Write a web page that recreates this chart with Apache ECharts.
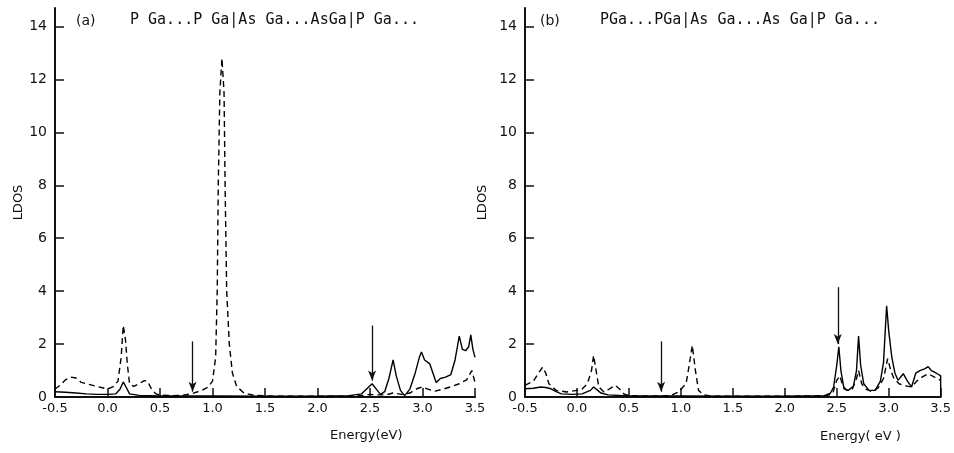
<!DOCTYPE html>
<html>
<head>
<meta charset="utf-8">
<title>LDOS</title>
<script src="https://cdn.jsdelivr.net/npm/echarts@6/dist/echarts.min.js"></script>
<style>
  html, body { margin: 0; padding: 0; background: #fff; }
  #chart { width: 954px; height: 453px; }
</style>
</head>
<body>
<div id="chart"></div>
<script>
// tick labels
var xTicks = [-0.5, 0.0, 0.5, 1.0, 1.5, 2.0, 2.5, 3.0, 3.5];
var yTicks = [0, 2, 4, 6, 8, 10, 12, 14];

// panel (a): P Ga ... | As Ga ... | P Ga ...
var dashedA = [
  [-0.5,0.3],[-0.45,0.45],[-0.4,0.65],[-0.35,0.75],[-0.3,0.72],[-0.25,0.55],[-0.2,0.5],[-0.15,0.45],
  [-0.1,0.4],[-0.05,0.35],[0.0,0.3],[0.05,0.38],[0.1,0.6],[0.13,1.5],[0.15,2.7],[0.17,2.2],[0.19,1.2],
  [0.21,0.5],[0.25,0.4],[0.3,0.5],[0.35,0.62],[0.38,0.6],[0.42,0.3],[0.46,0.12],[0.5,0.08],[0.6,0.05],
  [0.7,0.06],[0.8,0.12],[0.9,0.25],[0.96,0.38],[1.0,0.6],[1.03,1.5],[1.045,4],[1.055,8],[1.07,11.5],
  [1.09,12.8],[1.11,11.5],[1.12,8],[1.135,4],[1.16,2],[1.19,0.9],[1.23,0.4],[1.3,0.15],[1.4,0.06],[1.6,0.03],
  [2.0,0.03],[2.3,0.03],[2.45,0.06],[2.5,0.1],[2.55,0.08],[2.65,0.08],[2.72,0.15],[2.8,0.1],[2.88,0.15],
  [2.95,0.32],[3.0,0.38],[3.05,0.3],[3.12,0.22],[3.2,0.3],[3.28,0.4],[3.35,0.5],[3.42,0.65],[3.47,1.0],[3.5,0.55]
];
var solidA = [
  [-0.5,0.2],[-0.4,0.18],[-0.3,0.15],[-0.2,0.12],[-0.1,0.1],[0.0,0.1],[0.08,0.12],[0.12,0.3],[0.15,0.57],
  [0.18,0.35],[0.21,0.12],[0.3,0.06],[0.5,0.04],[1.0,0.04],[1.5,0.03],[2.0,0.03],[2.3,0.05],[2.42,0.12],
  [2.48,0.35],[2.52,0.5],[2.56,0.3],[2.6,0.1],[2.64,0.2],[2.68,0.7],[2.72,1.4],[2.75,0.8],[2.79,0.25],
  [2.83,0.05],[2.88,0.3],[2.93,0.9],[2.97,1.5],[2.99,1.7],[3.02,1.4],[3.07,1.25],[3.1,0.9],[3.13,0.55],
  [3.17,0.7],[3.22,0.75],[3.27,0.85],[3.31,1.4],[3.35,2.3],[3.38,1.8],[3.41,1.75],[3.44,1.9],[3.46,2.35],
  [3.48,1.8],[3.5,1.5]
];
// arrows: [x, top, bottom]
var arrowsA = [[0.81, 2.1, 0.2], [2.52, 2.7, 0.62]];

// panel (b)
var dashedB = [
  [-0.5,0.44],[-0.42,0.6],[-0.37,0.9],[-0.33,1.13],[-0.3,0.9],[-0.27,0.5],[-0.2,0.25],[-0.1,0.19],
  [0.0,0.25],[0.05,0.3],[0.1,0.5],[0.14,1.0],[0.16,1.57],[0.18,1.1],[0.21,0.38],[0.26,0.19],[0.31,0.3],
  [0.37,0.44],[0.41,0.3],[0.45,0.12],[0.5,0.05],[0.7,0.03],[0.9,0.05],[0.98,0.2],[1.02,0.38],[1.05,0.5],
  [1.08,1.2],[1.11,1.95],[1.14,1.0],[1.17,0.25],[1.22,0.08],[1.3,0.03],[2.0,0.03],[2.4,0.05],[2.46,0.12],
  [2.5,0.63],[2.53,0.8],[2.56,0.4],[2.6,0.25],[2.65,0.3],[2.69,0.7],[2.71,1.0],[2.74,0.5],[2.78,0.3],
  [2.84,0.2],[2.9,0.35],[2.95,0.7],[2.99,1.45],[3.02,1.0],[3.05,0.7],[3.1,0.5],[3.16,0.42],[3.22,0.38],
  [3.27,0.6],[3.32,0.75],[3.38,0.88],[3.44,0.75],[3.5,0.63]
];
var solidB = [
  [-0.5,0.31],[-0.42,0.33],[-0.35,0.38],[-0.3,0.36],[-0.25,0.31],[-0.2,0.2],[-0.15,0.12],[-0.05,0.1],
  [0.05,0.12],[0.1,0.2],[0.13,0.25],[0.16,0.38],[0.2,0.25],[0.23,0.15],[0.3,0.08],[0.5,0.04],[1.0,0.04],
  [1.5,0.03],[2.0,0.03],[2.38,0.05],[2.44,0.15],[2.47,0.38],[2.5,1.2],[2.52,1.9],[2.54,1.0],[2.57,0.31],
  [2.61,0.25],[2.66,0.4],[2.69,1.0],[2.71,2.3],[2.73,1.2],[2.76,0.5],[2.81,0.25],[2.87,0.25],[2.92,0.6],
  [2.95,1.3],[2.98,3.45],[3.0,2.5],[3.03,1.5],[3.06,0.9],[3.09,0.63],[3.14,0.88],[3.18,0.6],[3.22,0.38],
  [3.26,0.9],[3.3,1.0],[3.35,1.07],[3.38,1.15],[3.41,1.0],[3.44,0.94],[3.48,0.85],[3.5,0.8],[3.5,0]
];
var arrowsB = [[0.81, 2.1, 0.2], [2.51, 4.15, 2.0]];

var font = "DejaVu Sans";
var ink = "#111";

var chart = echarts.init(document.getElementById("chart"));

function xAxisFor(i) {
  return {
    type: "value", gridIndex: i, min: -0.5, max: 3.5, interval: 0.5,
    axisLine: { show: true, onZero: false, lineStyle: { color: ink, width: 2 } },
    axisTick: { show: true, inside: true, length: 9, customValues: xTicks, lineStyle: { color: ink, width: 1.5 } },
    axisLabel: { customValues: xTicks, margin: 5, color: ink, fontFamily: font, fontSize: 13,
      formatter: function (v) { return v.toFixed(1); } },
    splitLine: { show: false }
  };
}
function yAxisFor(i, gap) {
  return {
    type: "value", gridIndex: i, min: 0, max: 14.7,
    name: "LDOS", nameLocation: "middle", nameGap: gap,
    nameTextStyle: { color: ink, fontFamily: font, fontSize: 13 },
    axisLine: { show: true, onZero: false, lineStyle: { color: ink, width: 2 } },
    axisTick: { show: true, inside: true, length: 9, customValues: yTicks, lineStyle: { color: ink, width: 1.5 } },
    axisLabel: { customValues: yTicks, margin: 8, color: ink, fontFamily: font, fontSize: 14 },
    splitLine: { show: false }
  };
}
function arrowLines(list) {
  return {
    silent: true, symbol: ["none", "arrow"], symbolSize: [6, 10], label: { show: false },
    lineStyle: { color: ink, width: 1.3, type: "solid" },
    data: list.map(function (a) { return [{ coord: [a[0], a[1]] }, { coord: [a[0], a[2]] }]; })
  };
}
function line(data, i, dashed, arrows) {
  var s = {
    type: "line", xAxisIndex: i, yAxisIndex: i, data: data, showSymbol: false, silent: true,
    lineStyle: { color: "#000", width: 1.4, type: dashed ? [6, 4] : "solid" }
  };
  if (arrows) s.markLine = arrowLines(arrows);
  return s;
}

var option = {
  animation: false,
  backgroundColor: "#fff",
  grid: [
    { left: 55, right: 479, top: 8, bottom: 56 },
    { left: 525, right: 11, top: 8, bottom: 56 }
  ],
  xAxis: [xAxisFor(0), xAxisFor(1)],
  yAxis: [yAxisFor(0, 30), yAxisFor(1, 36)],
  series: [
    line(dashedA, 0, true),
    line(solidA, 0, false, arrowsA),
    line(dashedB, 1, true),
    line(solidB, 1, false, arrowsB)
  ],
  graphic: [
    { type: "text", left: 76, top: 14, style: { text: "(a)", fill: ink, font: "14px " + font } },
    { type: "text", left: 130, top: 13, style: { text: "P Ga...P Ga|As Ga...AsGa|P Ga...", fill: ink, font: "15px DejaVu Sans Mono" } },
    { type: "text", left: 540, top: 14, style: { text: "(b)", fill: ink, font: "14px " + font } },
    { type: "text", left: 600, top: 13, style: { text: "PGa...PGa|As Ga...As Ga|P Ga...", fill: ink, font: "15px DejaVu Sans Mono" } },
    { type: "text", left: 330, top: 429, style: { text: "Energy(eV)", fill: ink, font: "13px " + font } },
    { type: "text", left: 820, top: 430, style: { text: "Energy( eV )", fill: ink, font: "13px " + font } }
  ]
};
chart.setOption(option);
</script>
</body>
</html>
